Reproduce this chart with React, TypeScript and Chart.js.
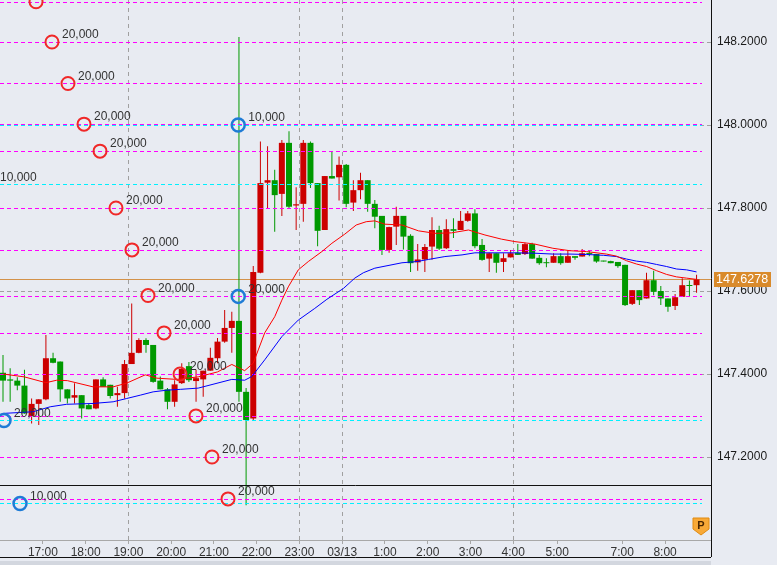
import React, { useEffect, useRef } from "react";
import { Chart, registerables } from "chart.js";

Chart.register(...registerables);

// ---- 10-minute candles (index 0 = first visible bar) ----
const openP = [
  147.403, 147.387, 147.384, 147.372, 147.299, 147.328, 147.339, 147.438, 147.430, 147.363,
  147.343, 147.349, 147.325, 147.317, 147.387, 147.374, 147.349, 147.354, 147.424, 147.451,
  147.482, 147.470, 147.384, 147.363, 147.333, 147.378, 147.419, 147.383, 147.387, 147.408,
  147.438, 147.478, 147.511, 147.528, 147.357, 147.293, 147.644, 147.861, 147.867, 147.834,
  147.957, 147.806, 147.810, 147.957, 147.860, 147.747, 147.877, 147.874, 147.904, 147.813,
  147.843, 147.867, 147.810, 147.781, 147.699, 147.755, 147.781, 147.733, 147.669, 147.676,
  147.707, 147.747, 147.703, 147.749, 147.747, 147.769, 147.787, 147.711, 147.678, 147.691,
  147.670, 147.681, 147.692, 147.689, 147.713, 147.680, 147.668, 147.668, 147.684, 147.668,
  147.684, 147.683, 147.691, 147.689, 147.673, 147.672, 147.670, 147.663, 147.569, 147.602,
  147.582, 147.626, 147.600, 147.582, 147.564, 147.586, 147.614, 147.614,
];
const highP = [
  147.446, 147.414, 147.392, 147.410, 147.341, 147.339, 147.494, 147.451, 147.430, 147.363,
  147.378, 147.349, 147.329, 147.387, 147.392, 147.374, 147.369, 147.434, 147.570, 147.486,
  147.486, 147.470, 147.394, 147.366, 147.385, 147.426, 147.429, 147.410, 147.408, 147.463,
  147.487, 147.554, 147.550, 148.212, 147.366, 147.660, 147.960, 147.949, 147.892, 147.964,
  147.985, 147.850, 147.964, 147.960, 147.860, 147.877, 147.936, 147.924, 147.906, 147.867,
  147.885, 147.867, 147.819, 147.781, 147.755, 147.803, 147.781, 147.737, 147.713, 147.713,
  147.778, 147.757, 147.773, 147.775, 147.793, 147.793, 147.797, 147.725, 147.692, 147.691,
  147.691, 147.699, 147.713, 147.716, 147.716, 147.687, 147.679, 147.691, 147.691, 147.697,
  147.684, 147.701, 147.697, 147.689, 147.673, 147.673, 147.670, 147.663, 147.602, 147.602,
  147.644, 147.649, 147.612, 147.582, 147.593, 147.631, 147.625, 147.639,
];
const lowP = [
  147.333, 147.333, 147.361, 147.304, 147.281, 147.277, 147.337, 147.426, 147.333, 147.329,
  147.329, 147.293, 147.315, 147.315, 147.369, 147.341, 147.321, 147.341, 147.424, 147.450,
  147.451, 147.379, 147.363, 147.315, 147.321, 147.376, 147.381, 147.333, 147.345, 147.408,
  147.426, 147.475, 147.451, 147.333, 147.084, 147.289, 147.643, 147.799, 147.743, 147.781,
  147.799, 147.747, 147.767, 147.848, 147.708, 147.747, 147.871, 147.818, 147.802, 147.793,
  147.821, 147.791, 147.751, 147.687, 147.692, 147.711, 147.700, 147.646, 147.649, 147.646,
  147.675, 147.699, 147.701, 147.728, 147.747, 147.767, 147.703, 147.673, 147.646, 147.644,
  147.646, 147.681, 147.687, 147.687, 147.678, 147.663, 147.657, 147.668, 147.663, 147.668,
  147.675, 147.683, 147.684, 147.668, 147.671, 147.667, 147.656, 147.564, 147.566, 147.566,
  147.582, 147.590, 147.566, 147.550, 147.554, 147.586, 147.586, 147.596,
];
const closeP = [
  147.384, 147.384, 147.372, 147.305, 147.328, 147.339, 147.438, 147.427, 147.363, 147.341,
  147.349, 147.317, 147.315, 147.387, 147.369, 147.347, 147.354, 147.424, 147.451, 147.482,
  147.470, 147.381, 147.363, 147.333, 147.375, 147.412, 147.385, 147.390, 147.408, 147.439,
  147.478, 147.511, 147.528, 147.357, 147.289, 147.646, 147.860, 147.867, 147.831, 147.957,
  147.803, 147.809, 147.957, 147.860, 147.745, 147.877, 147.871, 147.904, 147.810, 147.843,
  147.867, 147.810, 147.779, 147.699, 147.754, 147.781, 147.731, 147.667, 147.676, 147.706,
  147.747, 147.702, 147.749, 147.745, 147.769, 147.787, 147.708, 147.675, 147.691, 147.668,
  147.679, 147.691, 147.687, 147.713, 147.678, 147.667, 147.667, 147.684, 147.667, 147.684,
  147.680, 147.691, 147.689, 147.671, 147.671, 147.667, 147.660, 147.566, 147.602, 147.578,
  147.626, 147.598, 147.582, 147.562, 147.585, 147.614, 147.612, 147.628,
];

// ---- moving averages (bar index, price) ----
const fastMaIdx = [0, 3, 6, 7.5, 9, 12.6, 15.4, 17.3, 19.9, 21.5, 24.3, 27.3, 30, 32, 33.8, 35, 35.7, 36.6, 38, 39, 39.9, 41.3, 42.7, 44.6, 46, 47.8, 49.4, 50.8, 52, 53.4, 55.8, 58.1, 60.4, 62.7, 65.1, 67.4, 69.7, 71.6, 74.4, 76.9, 79.3, 81.6, 84.4, 85.8, 87.2, 88.6, 90, 91.4, 92.8, 94.2, 95.6, 97];
const fastMaVal = [147.400, 147.393, 147.379, 147.385, 147.384, 147.369, 147.369, 147.378, 147.398, 147.390, 147.387, 147.393, 147.405, 147.423, 147.408, 147.426, 147.458, 147.499, 147.538, 147.578, 147.610, 147.651, 147.671, 147.695, 147.715, 147.737, 147.759, 147.767, 147.769, 147.761, 147.759, 147.745, 147.739, 147.740, 147.747, 147.735, 147.725, 147.719, 147.713, 147.703, 147.697, 147.695, 147.689, 147.684, 147.673, 147.665, 147.659, 147.649, 147.640, 147.634, 147.631, 147.628];
const slowMaIdx = [0, 4.2, 6.6, 8.9, 12.6, 15.4, 17.3, 19.2, 21, 22.9, 24.8, 27.3, 32, 33.8, 34.8, 36.6, 39, 41.3, 43.6, 45.3, 47.6, 49.2, 50.4, 52, 55.8, 57.9, 59.5, 61.8, 64.2, 66, 68.8, 71.6, 74.4, 76.9, 79.3, 81.6, 84, 85.8, 87.2, 88.6, 90, 91.4, 92.8, 94.2, 95.6, 97];
const slowMaVal = [147.305, 147.309, 147.321, 147.327, 147.329, 147.333, 147.341, 147.349, 147.357, 147.361, 147.363, 147.366, 147.387, 147.385, 147.394, 147.434, 147.490, 147.530, 147.558, 147.580, 147.606, 147.631, 147.644, 147.655, 147.668, 147.671, 147.676, 147.683, 147.687, 147.692, 147.692, 147.692, 147.691, 147.689, 147.689, 147.688, 147.686, 147.683, 147.677, 147.672, 147.669, 147.664, 147.659, 147.653, 147.651, 147.646];

// ---- axes ----
const timeTickIdx = [5.58, 11.56, 17.54, 23.52, 29.5, 35.48, 41.46, 47.44, 53.42, 59.4, 65.38, 71.36, 77.5, 86.6, 92.6];
const timeTickLabels = ["17:00", "18:00", "19:00", "20:00", "21:00", "22:00", "23:00", "03/13", "1:00", "2:00", "3:00", "4:00", "5:00", "7:00", "8:00"];
const dividerIdx = [17.54, 41.46, 47.44, 71.36];
const priceTicks = [147.2, 147.4, 147.6, 147.8, 148.0, 148.2];
const priceMin = 147.0;
const priceMax = 148.3012;

// ---- orders ----
const sellIdx = [4.62, 6.85, 9.09, 11.33, 13.57, 15.8, 18.04, 20.28, 22.52, 24.76, 26.99, 29.23, 31.47];
const sellPrice = [148.297, 148.2, 148.1, 148.002, 147.937, 147.8, 147.699, 147.589, 147.499, 147.4, 147.299, 147.2, 147.099];
const sellQty = ["20,000", "20,000", "20,000", "20,000", "20,000", "20,000", "20,000", "20,000", "20,000", "20,000", "20,000", "20,000", "20,000"];
const buyIdx = [32.9, -1.82, 32.9, 0.14, 2.38];
const buyPrice = [148.0, 147.857, 147.587, 147.288, 147.088];
const buyQty = ["10,000", "10,000", "20,000", "20,000", "10,000"];
const lastPrice = 147.6278;

const BG = "#E8EBF2";
const UP = "#CC0000";
const DOWN = "#009900";
const FONT = "'Liberation Sans', Arial, sans-serif";

const zeroPadding = (s: any) => {
  s.paddingLeft = 0;
  s.paddingRight = 0;
  s.paddingTop = 0;
  s.paddingBottom = 0;
};

const overlayPlugin = {
  id: "overlay",
  beforeDraw(chart: any) {
    const { ctx, width, height } = chart;
    ctx.save();
    ctx.fillStyle = BG;
    ctx.fillRect(0, 0, width, height);
    // scrollbar strip under the time axis
    ctx.fillStyle = "#D3D7DF";
    ctx.fillRect(0, 561, 711, 4);
    ctx.restore();
  },
  beforeDatasetsDraw(chart: any) {
    const { ctx, chartArea: a, scales } = chart;
    const x = scales.x, y = scales.y;
    ctx.save();
    ctx.lineWidth = 1;
    ctx.strokeStyle = "#A0A0A0";
    ctx.setLineDash([4, 3]);
    priceTicks.forEach((p) => {
      const py = Math.round(y.getPixelForValue(p)) + 0.5;
      ctx.beginPath();
      ctx.moveTo(a.left, py);
      ctx.lineTo(a.right, py);
      ctx.stroke();
    });
    ctx.setLineDash([4, 4]);
    dividerIdx.forEach((v) => {
      const px = Math.round(x.getPixelForValue(v)) + 0.5;
      ctx.beginPath();
      ctx.moveTo(px, a.top);
      ctx.lineTo(px, a.bottom);
      ctx.stroke();
    });
    ctx.setLineDash([]);
    ctx.strokeStyle = "#D3924A";
    const ly = Math.round(y.getPixelForValue(lastPrice)) + 0.5;
    ctx.beginPath();
    ctx.moveTo(a.left, ly);
    ctx.lineTo(a.right, ly);
    ctx.stroke();
    ctx.restore();
  },
  afterDatasetDraw(chart: any, args: any) {
    if (args.index !== 1) return;
    const { ctx, chartArea: a, scales } = chart;
    const y = scales.y;
    ctx.save();
    ctx.beginPath();
    ctx.rect(a.left, a.top, a.right - a.left, a.bottom - a.top);
    ctx.clip();
    ctx.lineWidth = 1;
    ctx.setLineDash([4, 3]);
    const drawLines = (prices: number[], color: string) => {
      ctx.strokeStyle = color;
      prices.forEach((p) => {
        const py = Math.round(y.getPixelForValue(p)) + 0.5;
        ctx.beginPath();
        ctx.moveTo(a.left, py);
        ctx.lineTo(a.right - 9, py);
        ctx.stroke();
      });
    };
    drawLines(buyPrice, "#00F0FF");
    drawLines(sellPrice, "#FF00FF");
    ctx.restore();
  },
  afterDatasetsDraw(chart: any) {
    const { ctx, scales } = chart;
    const x = scales.x, y = scales.y;
    ctx.save();
    ctx.font = "12px " + FONT;
    ctx.fillStyle = "#333333";
    ctx.textAlign = "left";
    ctx.textBaseline = "middle";
    const label = (idx: number[], prices: number[], qty: string[]) => {
      idx.forEach((v, k) => {
        const px = x.getPixelForValue(v);
        const py = y.getPixelForValue(prices[k]);
        ctx.fillText(qty[k], px + 10, py - 7);
      });
    };
    label(sellIdx, sellPrice, sellQty);
    label(buyIdx, buyPrice, buyQty);
    ctx.restore();
  },
  afterDraw(chart: any) {
    const { ctx, chartArea: a, scales } = chart;
    const y = scales.y;
    ctx.save();
    ctx.strokeStyle = "#111111";
    ctx.lineWidth = 1;
    ctx.beginPath();
    ctx.moveTo(a.right + 0.5, 0);
    ctx.lineTo(a.right + 0.5, 557);
    ctx.moveTo(0, 485.5);
    ctx.lineTo(a.right, 485.5);
    ctx.moveTo(0, 557.5);
    ctx.lineTo(a.right, 557.5);
    ctx.stroke();
    const py = y.getPixelForValue(lastPrice);
    ctx.fillStyle = "#D98A2B";
    ctx.fillRect(a.right + 3, Math.round(py) - 7, 57, 15);
    ctx.fillStyle = "#FFFFFF";
    ctx.font = "12.5px " + FONT;
    ctx.textAlign = "left";
    ctx.textBaseline = "middle";
    ctx.fillText(lastPrice.toFixed(4), a.right + 5, Math.round(py) + 1);
    const cx = a.right - 10, top = 518;
    ctx.beginPath();
    ctx.moveTo(cx - 8, top);
    ctx.lineTo(cx + 8, top);
    ctx.lineTo(cx + 8, top + 11);
    ctx.lineTo(cx, top + 17);
    ctx.lineTo(cx - 8, top + 11);
    ctx.closePath();
    ctx.fillStyle = "#F8A937";
    ctx.fill();
    ctx.strokeStyle = "#E08A10";
    ctx.stroke();
    ctx.fillStyle = "#4A2600";
    ctx.font = "bold 11px " + FONT;
    ctx.textAlign = "center";
    ctx.fillText("P", cx, top + 7.5);
    ctx.restore();
  },
};

export default function App() {
  const canvasRef = useRef<HTMLCanvasElement | null>(null);

  useEffect(() => {
    if (!canvasRef.current) return;
    Chart.defaults.font.family = FONT;
    const idx = openP.map((_, i) => i);
    const colors = idx.map((i) => (closeP[i] >= openP[i] ? UP : DOWN));

    const chart = new Chart(canvasRef.current, {
      type: "bar",
      data: {
        datasets: [
          {
            type: "bar",
            label: "wick",
            data: idx.map((i) => ({ x: i, y: [lowP[i], highP[i]] })) as any,
            backgroundColor: colors,
            barThickness: 1,
            grouped: false,
            inflateAmount: 0,
            borderWidth: 0,
            order: 6,
          } as any,
          {
            type: "bar",
            label: "body",
            data: idx.map((i) => ({ x: i, y: [openP[i], closeP[i]] })) as any,
            backgroundColor: colors,
            barThickness: 6,
            minBarLength: 1,
            grouped: false,
            inflateAmount: 0,
            borderWidth: 0,
            order: 5,
          } as any,
          {
            type: "line",
            label: "slow MA",
            data: slowMaIdx.map((v, k) => ({ x: v, y: slowMaVal[k] })),
            borderColor: "#0000FF",
            borderWidth: 1,
            pointRadius: 0,
            tension: 0,
            order: 4,
          } as any,
          {
            type: "line",
            label: "fast MA",
            data: fastMaIdx.map((v, k) => ({ x: v, y: fastMaVal[k] })),
            borderColor: "#FF0000",
            borderWidth: 1,
            pointRadius: 0,
            tension: 0,
            order: 3,
          } as any,
          {
            type: "line",
            label: "sell",
            data: sellIdx.map((v, k) => ({ x: v, y: sellPrice[k] })),
            showLine: false,
            pointStyle: "circle",
            pointRadius: 6.5,
            pointBorderWidth: 2,
            pointBorderColor: "#F02828",
            pointBackgroundColor: "rgba(0,0,0,0)",
            order: 1,
          } as any,
          {
            type: "line",
            label: "buy",
            data: buyIdx.map((v, k) => ({ x: v, y: buyPrice[k] })),
            showLine: false,
            pointStyle: "circle",
            pointRadius: 6.5,
            pointBorderWidth: 2.5,
            pointBorderColor: "#1E7BD6",
            pointBackgroundColor: "rgba(0,0,0,0)",
            order: 0,
          } as any,
        ],
      },
      options: {
        responsive: false,
        animation: false,
        devicePixelRatio: 1,
        events: [],
        layout: { padding: 0, autoPadding: false },
        plugins: { legend: { display: false }, tooltip: { enabled: false } },
        scales: {
          x: {
            type: "linear",
            min: -0.42,
            max: 99.02,
            offset: false,
            afterBuildTicks: (s: any) => {
              s.ticks = timeTickIdx.map((v) => ({ value: v }));
            },
            afterFit: (s: any) => {
              s.height = 25;
              zeroPadding(s);
            },
            ticks: {
              autoSkip: false,
              maxRotation: 0,
              minRotation: 0,
              padding: 1,
              color: "#333333",
              font: { size: 12, family: FONT },
              callback: (_v: any, i: number) => timeTickLabels[i],
            },
            grid: { drawOnChartArea: false, drawTicks: true, tickLength: 4, color: "#A8A8A8", offset: false },
            border: { display: true, color: "#A8A8A8", width: 1 },
          },
          y: {
            type: "linear",
            position: "right",
            min: priceMin,
            max: priceMax,
            afterBuildTicks: (s: any) => {
              s.ticks = priceTicks.map((v) => ({ value: v }));
            },
            afterFit: (s: any) => {
              s.width = 66;
              zeroPadding(s);
            },
            ticks: {
              padding: 6,
              color: "#1A1A1A",
              font: { size: 12, family: FONT },
              callback: (v: any) => Number(v).toFixed(4),
            },
            grid: { display: false, drawTicks: false },
            border: { display: false },
          },
        },
      } as any,
      plugins: [overlayPlugin],
    });
    return () => chart.destroy();
  }, []);

  return (
    <div style={{ position: "fixed", left: 0, top: 0, width: 777, height: 565, background: BG }}>
      <canvas ref={canvasRef} width={777} height={565} style={{ display: "block", width: 777, height: 565 }} />
    </div>
  );
}
